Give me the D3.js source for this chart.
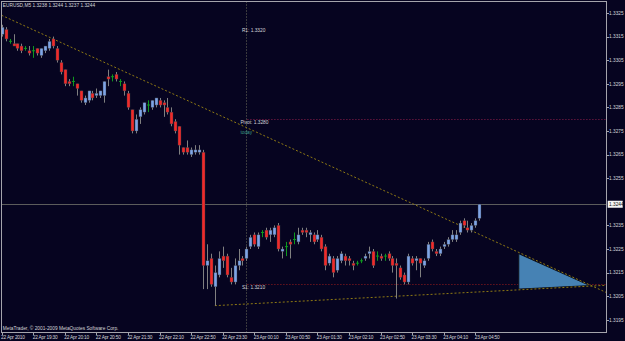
<!DOCTYPE html>
<html><head><meta charset="utf-8">
<script src="https://cdn.jsdelivr.net/npm/d3@7"></script>
<style>html,body{margin:0;padding:0;background:#060420;overflow:hidden}</style>
</head><body>
<svg id="c" width="625" height="341"></svg>
<script>
// ---- data (EURUSD M5, bar 0 = 22 Apr 2010 18:50) ----
const opens  = [1.3316,1.3318,1.3313,1.3312,1.3312,1.3311,1.3310,1.3309,1.3309,1.3310,
1.3307,1.3309,1.3310,1.3314,1.3310,1.3304,1.3301,1.3296,1.3296,1.3295,
1.3292,1.3287,1.3288,1.3291,1.3290,1.3290,1.3290,1.3298,1.3298,1.3299,
1.3296,1.3295,1.3291,1.3284,1.3275,1.3281,1.3283,1.3286,1.3285,1.3286,
1.3288,1.3287,1.3285,1.3283,1.3279,1.3277,1.3268,1.3268,1.3265,1.3266,
1.3266,1.3266,1.3218,1.3221,1.3209,1.3214,1.3222,1.3222,1.3213,1.3211,
1.3218,1.3221,1.3221,1.3226,1.3231,1.3226,1.3232,1.3233,1.3231,1.3231,
1.3235,1.3224,1.3226,1.3228,1.3229,1.3228,1.3233,1.3233,1.3231,1.3231,
1.3229,1.3230,1.3226,1.3219,1.3221,1.3216,1.3220,1.3222,1.3221,1.3219,
1.3219,1.3220,1.3221,1.3223,1.3224,1.3222,1.3222,1.3222,1.3223,1.3221,
1.3219,1.3217,1.3214,1.3211,1.3221,1.3220,1.3221,1.3218,1.3221,1.3228,
1.3224,1.3223,1.3226,1.3227,1.3229,1.3229,1.3232,1.3237,1.3234,1.3233,
1.3235,1.3238];
const highs  = [1.3320,1.3319,1.3314,1.3316,1.3312,1.3312,1.3311,1.3311,1.3311,1.3310,
1.3310,1.3311,1.3314,1.3315,1.3311,1.3305,1.3301,1.3297,1.3298,1.3295,
1.3292,1.3290,1.3292,1.3292,1.3293,1.3292,1.3296,1.3301,1.3299,1.3300,
1.3297,1.3296,1.3292,1.3284,1.3282,1.3285,1.3287,1.3288,1.3288,1.3289,
1.3289,1.3288,1.3289,1.3285,1.3280,1.3277,1.3268,1.3271,1.3268,1.3269,
1.3269,1.3267,1.3227,1.3223,1.3218,1.3224,1.3226,1.3223,1.3217,1.3221,
1.3225,1.3222,1.3226,1.3231,1.3232,1.3232,1.3233,1.3234,1.3234,1.3235,
1.3236,1.3226,1.3228,1.3229,1.3232,1.3234,1.3234,1.3234,1.3233,1.3232,
1.3233,1.3231,1.3227,1.3223,1.3222,1.3222,1.3224,1.3223,1.3222,1.3220,
1.3220,1.3221,1.3223,1.3226,1.3225,1.3224,1.3223,1.3223,1.3224,1.3222,
1.3221,1.3218,1.3215,1.3223,1.3222,1.3222,1.3221,1.3221,1.3228,1.3229,
1.3225,1.3226,1.3228,1.3230,1.3233,1.3233,1.3237,1.3238,1.3237,1.3236,
1.3238,1.3244];
const lows   = [1.3315,1.3313,1.3312,1.3311,1.3309,1.3308,1.3309,1.3307,1.3306,1.3307,
1.3306,1.3308,1.3309,1.3310,1.3304,1.3299,1.3294,1.3294,1.3294,1.3290,
1.3287,1.3286,1.3287,1.3288,1.3289,1.3289,1.3287,1.3294,1.3296,1.3296,
1.3294,1.3290,1.3284,1.3274,1.3274,1.3278,1.3282,1.3283,1.3284,1.3285,
1.3285,1.3281,1.3282,1.3277,1.3274,1.3265,1.3265,1.3265,1.3264,1.3265,
1.3265,1.3208,1.3208,1.3209,1.3201,1.3213,1.3217,1.3213,1.3210,1.3210,
1.3216,1.3218,1.3220,1.3225,1.3226,1.3225,1.3230,1.3229,1.3228,1.3230,
1.3224,1.3221,1.3222,1.3221,1.3227,1.3227,1.3231,1.3230,1.3228,1.3227,
1.3228,1.3224,1.3216,1.3218,1.3213,1.3215,1.3219,1.3218,1.3218,1.3216,
1.3218,1.3219,1.3220,1.3221,1.3217,1.3220,1.3220,1.3220,1.3220,1.3215,
1.3204,1.3212,1.3210,1.3210,1.3218,1.3216,1.3213,1.3217,1.3220,1.3224,
1.3222,1.3222,1.3225,1.3226,1.3228,1.3228,1.3231,1.3234,1.3232,1.3232,
1.3234,1.3237];
const closes = [1.3319,1.3314,1.3313,1.3311,1.3310,1.3309,1.3310,1.3308,1.3309,1.3308,
1.3310,1.3311,1.3313,1.3311,1.3305,1.3300,1.3295,1.3295,1.3296,1.3293,
1.3288,1.3289,1.3292,1.3289,1.3291,1.3292,1.3296,1.3297,1.3298,1.3297,
1.3296,1.3292,1.3285,1.3275,1.3280,1.3284,1.3287,1.3286,1.3288,1.3289,
1.3286,1.3286,1.3283,1.3278,1.3275,1.3269,1.3266,1.3266,1.3267,1.3267,
1.3267,1.3218,1.3220,1.3210,1.3215,1.3221,1.3220,1.3214,1.3211,1.3218,
1.3220,1.3220,1.3225,1.3230,1.3227,1.3231,1.3232,1.3230,1.3233,1.3234,
1.3225,1.3225,1.3226,1.3227,1.3229,1.3231,1.3232,1.3232,1.3232,1.3228,
1.3231,1.3225,1.3218,1.3222,1.3215,1.3221,1.3223,1.3220,1.3220,1.3218,
1.3219,1.3220,1.3222,1.3224,1.3218,1.3222,1.3221,1.3222,1.3221,1.3218,
1.3218,1.3213,1.3211,1.3222,1.3219,1.3221,1.3219,1.3220,1.3227,1.3225,
1.3223,1.3225,1.3227,1.3229,1.3231,1.3231,1.3236,1.3235,1.3233,1.3235,
1.3237,1.3244];

// 1.3245 is hidden behind the current-price box, as in the terminal
const priceTicks = [1.3325,1.3315,1.3305,1.3295,1.3285,1.3275,1.3265,1.3255,1.3235,1.3225,1.3215,1.3205,1.3195];
const timeTickBars = [0,8,16,24,32,40,48,56,64,72,80,88,96,104,112,120];
const timeTickLabels = ["22 Apr 2010","22 Apr 19:30","22 Apr 20:10","22 Apr 20:50","22 Apr 21:30","22 Apr 22:10","22 Apr 22:50","22 Apr 23:30","23 Apr 00:10","23 Apr 00:50","23 Apr 01:30","23 Apr 02:10","23 Apr 02:50","23 Apr 03:30","23 Apr 04:10","23 Apr 04:50"];
const daySeparatorBar = 62; // 23 Apr 00:00
const pivotNames  = ["R1","Pivot","S1"];
const pivotValues = [1.3320,1.3280,1.3210];
const upperTrend = [[0,1.3324],[120,1.3232]];
const lowerTrend = [[54,1.3201],[100,1.3205]];
const triangleBars   = [131,131,149];
const trianglePrices = [1.3223,1.3208,1.32095];
const symbol = "EURUSD,M5";
const copyright = "MetaTrader, \u00A9 2001-2009 MetaQuotes Software Corp.";

// ---- layout ----
const W=625,H=341;
const frame={l:1.5,t:1.5,r:606.5,b:332.5};
const BG="#060420", FR="#a4a4ac", TXT="#d4d4d8";
const FONT="'Liberation Sans', Arial, sans-serif";
const x=d3.scaleLinear().domain([0,121]).range([1.7,479.3]);
const y=d3.scaleLinear().domain([1.3195,1.3325]).range([319.8,13]);

const svg=d3.select("#c");
svg.append("rect").attr("width",W).attr("height",H).attr("fill",BG);
svg.append("defs").append("clipPath").attr("id","clip").append("rect")
  .attr("x",frame.l).attr("y",frame.t).attr("width",frame.r-frame.l).attr("height",frame.b-frame.t);
const plot=svg.append("g").attr("clip-path","url(#clip)");

// day separator
plot.append("line").attr("x1",Math.round(x(daySeparatorBar))+0.5).attr("x2",Math.round(x(daySeparatorBar))+0.5)
  .attr("y1",frame.t).attr("y2",frame.b).attr("stroke","#6e6e5a").attr("stroke-width",1).attr("stroke-dasharray","1,2");

// current price line
const last=closes.length-1;
plot.append("line").attr("x1",frame.l).attr("x2",frame.r)
  .attr("y1",Math.round(y(closes[last]))+0.5).attr("y2",Math.round(y(closes[last]))+0.5)
  .attr("stroke","#5c5c5c").attr("stroke-width",1);

// pivot lines (Pivot, S1)
const pivColors=[null,"#8e1f4a","#9a1c1c"];
pivotValues.forEach((v,i)=>{
  if(i===0) return;
  plot.append("line").attr("x1",x(daySeparatorBar)+1).attr("x2",frame.r)
    .attr("y1",Math.round(y(v))+0.5).attr("y2",Math.round(y(v))+0.5)
    .attr("stroke",pivColors[i]).attr("stroke-width",1).attr("stroke-dasharray","1,2");
});

// triangle
const triPts=triangleBars.map((b,i)=>[x(b),y(trianglePrices[i])]);
plot.append("path").attr("d",d3.line()(triPts)+"Z").attr("fill","#4682b4").attr("stroke","#10121a").attr("stroke-width",1);

// trend lines
function trend(a,b,extendLeft){
  const sl=(y(b[1])-y(a[1]))/(x(b[0])-x(a[0]));
  const x0=extendLeft?frame.l:x(a[0]);
  const y0=y(a[1])+(x0-x(a[0]))*sl;
  const y1=y(a[1])+(frame.r-x(a[0]))*sl;
  plot.append("line").attr("x1",x0).attr("y1",y0).attr("x2",frame.r).attr("y2",y1)
    .attr("stroke","#8f7a14").attr("stroke-width",1).attr("stroke-dasharray","2,2");
}
trend(upperTrend[0],upperTrend[1],true);
trend(lowerTrend[0],lowerTrend[1],false);

// candles
const BULL="#7ea4e6", BEAR="#f02a2a", WICK="#808080", DOJI="#0e9a1e";
const idx=d3.range(opens.length);
idx.forEach(i=>{
  const cx=Math.round(x(i))+0.5;
  const isDoji=opens[i]===closes[i];
  plot.append("line").attr("x1",cx).attr("x2",cx).attr("y1",y(highs[i])).attr("y2",y(lows[i]))
    .attr("stroke",isDoji?DOJI:WICK).attr("stroke-width",1);
  if(isDoji){
    plot.append("line").attr("x1",cx-1.5).attr("x2",cx+1.5).attr("y1",y(opens[i])).attr("y2",y(opens[i]))
      .attr("stroke",DOJI).attr("stroke-width",1);
  } else {
    const top=y(Math.max(opens[i],closes[i])), bot=y(Math.min(opens[i],closes[i]));
    plot.append("rect").attr("x",cx-1.5).attr("width",3).attr("y",top).attr("height",Math.max(1,bot-top))
      .attr("fill",closes[i]>opens[i]?BULL:BEAR).attr("stroke","#3a3a44").attr("stroke-width",0.4);
  }
});

// frame
svg.append("rect").attr("x",frame.l).attr("y",frame.t).attr("width",frame.r-frame.l).attr("height",frame.b-frame.t)
  .attr("fill","none").attr("stroke",FR).attr("stroke-width",1);

// right axis
const ax=svg.append("g").attr("font-family",FONT).attr("font-size",4.8).attr("fill",TXT);
priceTicks.forEach(p=>{
  const yy=Math.round(y(p))+0.5;
  ax.append("line").attr("x1",frame.r).attr("x2",frame.r+2.5).attr("y1",yy).attr("y2",yy).attr("stroke",FR);
  ax.append("text").attr("x",609).attr("y",y(p)+1.7).text(p.toFixed(4));
});
// current price box
const cy=y(closes[last]);
ax.append("rect").attr("x",607.7).attr("y",cy-3.4).attr("width",15).attr("height",7).attr("fill","#f4f4f4");
ax.append("text").attr("x",609).attr("y",cy+1.8).attr("fill","#101010").text(closes[last].toFixed(4));

// bottom axis
const bx=svg.append("g").attr("font-family",FONT).attr("font-size",4.8).attr("fill",TXT).attr("letter-spacing","-0.2");
timeTickBars.forEach((b,i)=>{
  const xx=Math.round(x(b))+0.5;
  bx.append("line").attr("x1",xx).attr("x2",xx).attr("y1",frame.b).attr("y2",frame.b+2.5).attr("stroke",FR);
  bx.append("text").attr("x",x(b)-0.6).attr("y",339.3).text(timeTickLabels[i]);
});

// texts
const tg=svg.append("g").attr("font-family",FONT).attr("font-size",4.8).attr("fill",TXT);
tg.append("text").attr("x",2.8).attr("y",6.8)
  .text(symbol+"  "+[opens[last],highs[last],lows[last],closes[last]].map(v=>v.toFixed(4)).join(" "));
tg.append("text").attr("x",2.8).attr("y",330).text(copyright);
const labDy=[7.2,5.2,4.8], labDx=[-4.5,-6,-4.5];
pivotValues.forEach((v,i)=>{
  tg.append("text").attr("x",x(daySeparatorBar)+labDx[i]).attr("y",y(v)+labDy[i])
    .text(pivotNames[i]+": "+v.toFixed(4));
});
tg.append("text").attr("x",x(daySeparatorBar)-6).attr("y",y(pivotValues[1])+14.5).attr("fill","#3c9a86").text("today");
</script>
</body></html>
